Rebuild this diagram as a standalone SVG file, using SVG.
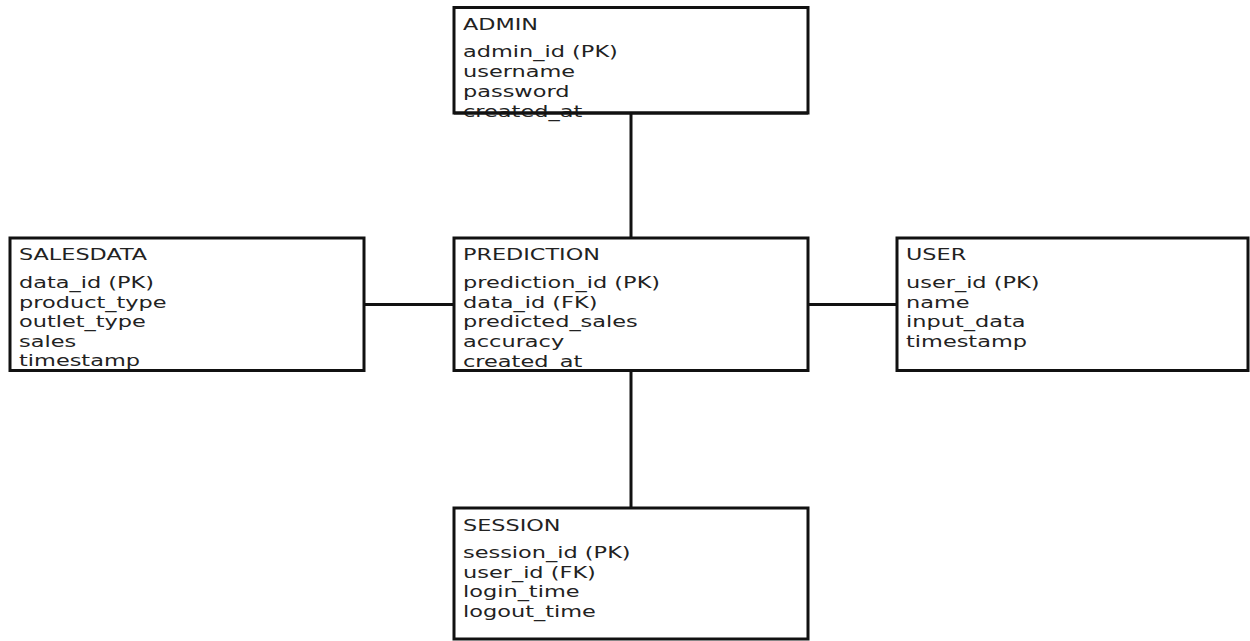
<svg xmlns="http://www.w3.org/2000/svg" width="1250" height="641" viewBox="0 0 1250 641">
  <style>
    .box { fill: #ffffff; stroke: #111111; stroke-width: 3; }
    .link { stroke: #111111; stroke-width: 3; fill: none; }
    .title { font-family: "DejaVu Sans", sans-serif; font-size: 15px; fill: #222222; }
    .field { font-family: "DejaVu Sans", sans-serif; font-size: 16.5px; fill: #222222; }
  </style>
  <rect width="1250" height="641" fill="#ffffff"/>

  <!-- relationships -->
  <g id="connectors">
    <line class="link" x1="631" y1="113" x2="631" y2="238"/>
    <line class="link" x1="631" y1="371" x2="631" y2="508"/>
    <line class="link" x1="364" y1="304.5" x2="454" y2="304.5"/>
    <line class="link" x1="808" y1="304.5" x2="897" y2="304.5"/>
  </g>

  <!-- ADMIN table -->
  <g id="admin">
    <rect class="box" x="454" y="7.5" width="354" height="105.5"/>
    <text class="title" transform="translate(463,29.5) scale(1.49,1)">ADMIN</text>
    <text class="field" transform="translate(463,57) scale(1.36,1)">admin_id (PK)</text>
    <text class="field" transform="translate(463,77) scale(1.36,1)">username</text>
    <text class="field" transform="translate(463,97) scale(1.36,1)">password</text>
    <text class="field" transform="translate(463,117) scale(1.36,1)">created_at</text>
    <line class="link" x1="454" y1="113" x2="808" y2="113"/>
  </g>

  <!-- SALESDATA table -->
  <g id="salesdata">
    <rect class="box" x="10" y="238" width="354" height="132.5"/>
    <text class="title" transform="translate(19,260) scale(1.49,1)">SALESDATA</text>
    <text class="field" transform="translate(19,288) scale(1.36,1)">data_id (PK)</text>
    <text class="field" transform="translate(19,307.5) scale(1.36,1)">product_type</text>
    <text class="field" transform="translate(19,327) scale(1.36,1)">outlet_type</text>
    <text class="field" transform="translate(19,346.5) scale(1.36,1)">sales</text>
    <text class="field" transform="translate(19,366) scale(1.36,1)">timestamp</text>
    <line class="link" x1="10" y1="370.5" x2="364" y2="370.5"/>
  </g>

  <!-- PREDICTION table -->
  <g id="prediction">
    <rect class="box" x="454" y="238" width="354" height="132.5"/>
    <text class="title" transform="translate(463,260) scale(1.49,1)">PREDICTION</text>
    <text class="field" transform="translate(463,288) scale(1.36,1)">prediction_id (PK)</text>
    <text class="field" transform="translate(463,307.5) scale(1.36,1)">data_id (FK)</text>
    <text class="field" transform="translate(463,327) scale(1.36,1)">predicted_sales</text>
    <text class="field" transform="translate(463,346.5) scale(1.36,1)">accuracy</text>
    <text class="field" transform="translate(463,366.5) scale(1.36,1)">created_at</text>
    <line class="link" x1="454" y1="370.5" x2="808" y2="370.5"/>
  </g>

  <!-- USER table -->
  <g id="user">
    <rect class="box" x="897" y="238" width="351" height="132.5"/>
    <text class="title" transform="translate(906,260) scale(1.49,1)">USER</text>
    <text class="field" transform="translate(906,288) scale(1.36,1)">user_id (PK)</text>
    <text class="field" transform="translate(906,307.5) scale(1.36,1)">name</text>
    <text class="field" transform="translate(906,327) scale(1.36,1)">input_data</text>
    <text class="field" transform="translate(906,346.5) scale(1.36,1)">timestamp</text>
  </g>

  <!-- SESSION table -->
  <g id="session">
    <rect class="box" x="454" y="508" width="354" height="131"/>
    <text class="title" transform="translate(463,530.5) scale(1.49,1)">SESSION</text>
    <text class="field" transform="translate(463,557.5) scale(1.36,1)">session_id (PK)</text>
    <text class="field" transform="translate(463,577.5) scale(1.36,1)">user_id (FK)</text>
    <text class="field" transform="translate(463,597) scale(1.36,1)">login_time</text>
    <text class="field" transform="translate(463,617) scale(1.36,1)">logout_time</text>
  </g>
</svg>
